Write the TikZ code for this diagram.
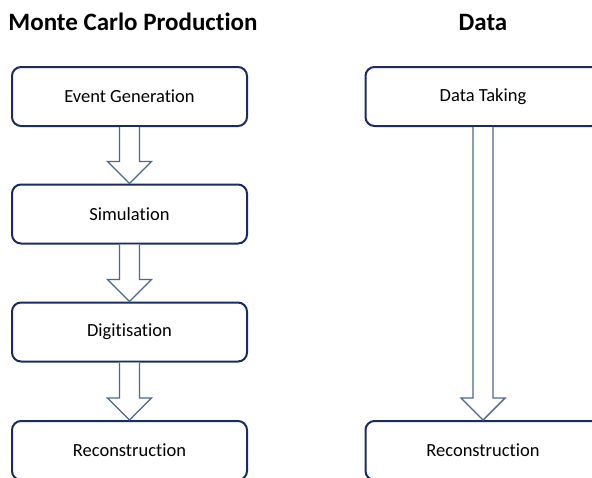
\documentclass[tikz,border=0pt]{standalone}
\usepackage{fontspec}
\setmainfont[RawFeature={-liga}]{Carlito}
\usetikzlibrary{calc}
\definecolor{boxline}{HTML}{1A2B5E}
\definecolor{arrowline}{HTML}{4A6894}
\tikzset{
  stage/.style={draw=boxline, line width=2pt, rounded corners=9pt, minimum width=235pt, minimum height=59pt, fill=white, inner sep=0pt, font=\fontsize{18.5}{20}\selectfont},
  title/.style={font=\fontsize{25}{28}\selectfont\bfseries, inner sep=0pt},
  barrow/.style={draw=arrowline, line width=1.4pt, fill=white, line join=miter}
}
\newcommand{\blockarrow}[3]{%
  \draw[barrow] let \p1=(#1.south), \p2=(#2.north) in
    (\x1-10pt,\y1) -- (\x1-10pt,\y2+#3) -- (\x1-22pt,\y2+#3) -- (\x1,\y2)
    -- (\x1+22pt,\y2+#3) -- (\x1+10pt,\y2+#3) -- (\x1+10pt,\y1);}
\begin{document}
\begin{tikzpicture}[x=1pt,y=-1pt]
\useasboundingbox (0,0) rectangle (592,477);
\clip (0,0) rectangle (592,477);
\node[title] (mc) at (133,22) {Monte Carlo Production};
\node[title] (data) at (483,22) {Data};
\node[stage] (gen) at (129.5,96.5) {Event Generation};
\node[stage] (sim) at (129.5,214) {Simulation};
\node[stage] (digi) at (129.5,332) {Digitisation};
\node[stage] (reco) at (129.5,450.5) {Reconstruction};
\node[stage] (take) at (483,96.5) {Data Taking};
\node[stage] (dreco) at (483,450.5) {Reconstruction};
\blockarrow{gen}{sim}{22pt}
\blockarrow{sim}{digi}{22pt}
\blockarrow{digi}{reco}{22pt}
\blockarrow{take}{dreco}{22pt}
\end{tikzpicture}
\end{document}
